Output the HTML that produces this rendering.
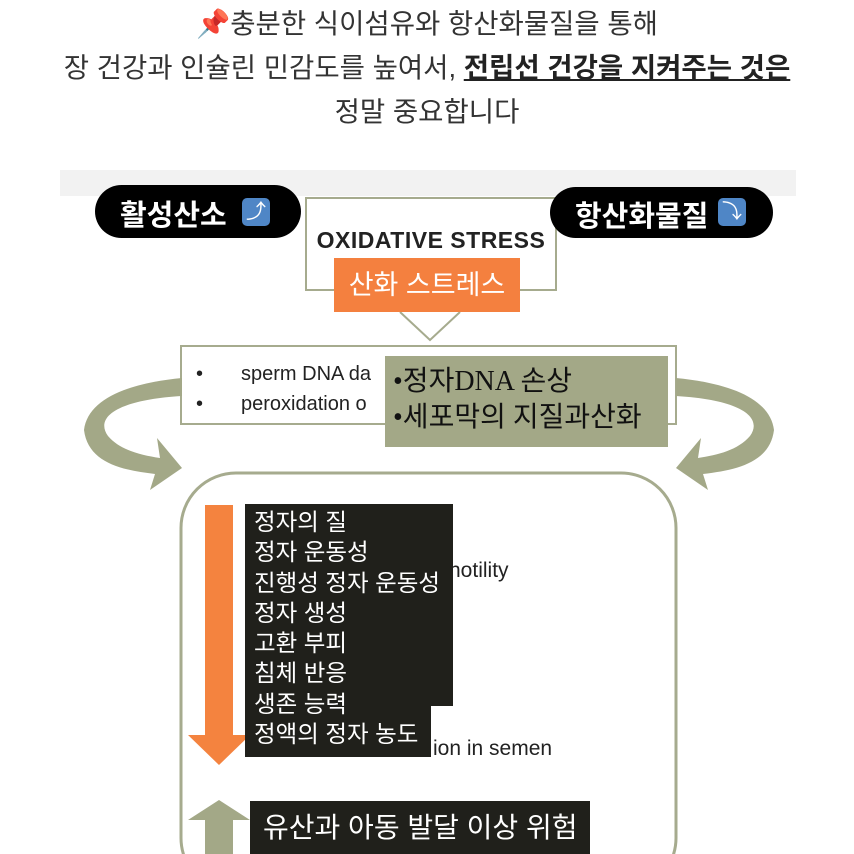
<!DOCTYPE html>
<html><head><meta charset="utf-8"><style>
body{margin:0;width:854px;height:854px;overflow:hidden;background:#fff;font-family:"Liberation Sans","Noto Sans CJK KR",sans-serif;position:relative}
.a{position:absolute}
.t{position:absolute;left:0;width:854px;text-align:center;color:#333;font-size:27.5px;white-space:nowrap}
</style></head><body>
<div class="t" style="top:1px">📌충분한 식이섬유와 항산화물질을 통해</div>
<div class="t" style="top:45px">장 건강과 인슐린 민감도를 높여서, <b style="text-decoration:underline;color:#222">전립선 건강을 지켜주는 것은</b></div>
<div class="t" style="top:89px">정말 중요합니다</div>

<div class="a" style="left:60px;top:170px;width:736px;height:26px;background:#f2f2f2"></div>

<svg class="a" style="left:0;top:0" width="854" height="854">
 <rect x="306" y="198" width="250" height="92" fill="#fff" stroke="#a6ab8e" stroke-width="2"/>
 <polyline points="400,312 430,340 460,312" fill="#fff" stroke="#a6ab8e" stroke-width="2"/>
 <rect x="181" y="346" width="495" height="78" fill="#fff" stroke="#a6ab8e" stroke-width="2"/>
 <path d="M182,396 C115,400 95,418 108,436 C120,450 140,455 160,458 L157,438 L182,468 L150,490 L155,474 C120,470 88,462 84,430 C88,398 130,383 182,378 Z" fill="#a3a887"/>
 <path d="M676,396 C743,400 763,418 750,436 C738,450 718,455 698,458 L701,438 L676,468 L708,490 L703,474 C738,470 770,462 774,430 C770,398 728,383 676,378 Z" fill="#a3a887"/>
 <rect x="181" y="473" width="495" height="420" rx="55" fill="#fff" stroke="#a6ab8e" stroke-width="3"/>
 <rect x="205" y="505" width="28" height="232" fill="#f4833f"/>
 <polygon points="188,735 250,735 219,765" fill="#f4833f"/>
 <polygon points="188,820 219,800 250,820 233,820 233,854 205,854 205,820" fill="#a3a887"/>
</svg>

<div class="a" style="left:95px;top:185px;width:206px;height:53px;background:#000;border-radius:27px"></div>
<div class="a" style="left:120px;top:192px;color:#fff;font-size:29px;font-weight:bold">활성산소</div>
<div class="a" style="left:242px;top:198px;width:28px;height:28px;background:#4f86c6;border-radius:5px;color:#fff;font-size:20px;text-align:center;line-height:28px">⤴</div>
<div class="a" style="left:550px;top:187px;width:223px;height:51px;background:#000;border-radius:26px"></div>
<div class="a" style="left:575px;top:193px;color:#fff;font-size:29px;font-weight:bold">항산화물질</div>
<div class="a" style="left:718px;top:198px;width:28px;height:28px;background:#4f86c6;border-radius:5px;color:#fff;font-size:20px;text-align:center;line-height:28px">⤵</div>

<div class="a" style="left:306px;top:227px;width:250px;text-align:center;font-size:23px;font-weight:bold;color:#222;letter-spacing:0.5px">OXIDATIVE STRESS</div>
<div class="a" style="left:334px;top:258px;width:186px;height:54px;background:#f4803f;color:#fff;font-size:27px;text-align:center;line-height:54px">산화 스트레스</div>

<div class="a" style="left:196px;top:359px;font-size:20px;color:#222;line-height:30px">•<br>•</div>
<div class="a" style="left:241px;top:359px;font-size:20px;color:#222;line-height:30px">sperm DNA da<br>peroxidation o</div>
<div class="a" style="left:385px;top:356px;width:283px;height:91px;background:#a3a887;color:#111;font-size:28px;line-height:36px;padding:8px 0 0 8px;box-sizing:border-box;font-family:'Liberation Serif','Noto Sans CJK KR',serif">•정자DNA 손상<br>•세포막의 지질과산화</div>

<div class="a" style="left:449px;top:559px;font-size:21px;color:#222">notility</div>
<div class="a" style="left:433px;top:737px;font-size:21px;color:#222">ion in semen</div>
<div class="a" style="left:245px;top:504px;width:208px;height:202px;background:#20201b"></div>
<div class="a" style="left:245px;top:700px;width:186px;height:57px;background:#20201b"></div>
<div class="a" style="left:254px;top:507px;color:#fff;font-size:23.5px;line-height:30.3px;white-space:nowrap">정자의 질<br>정자 운동성<br>진행성 정자 운동성<br>정자 생성<br>고환 부피<br>침체 반응<br>생존 능력<br>정액의 정자 농도</div>
<div class="a" style="left:250px;top:801px;width:340px;height:53px;background:#20201b;color:#fff;font-size:28px;line-height:53px;padding-left:13px;box-sizing:border-box">유산과 아동 발달 이상 위험</div>
</body></html>
